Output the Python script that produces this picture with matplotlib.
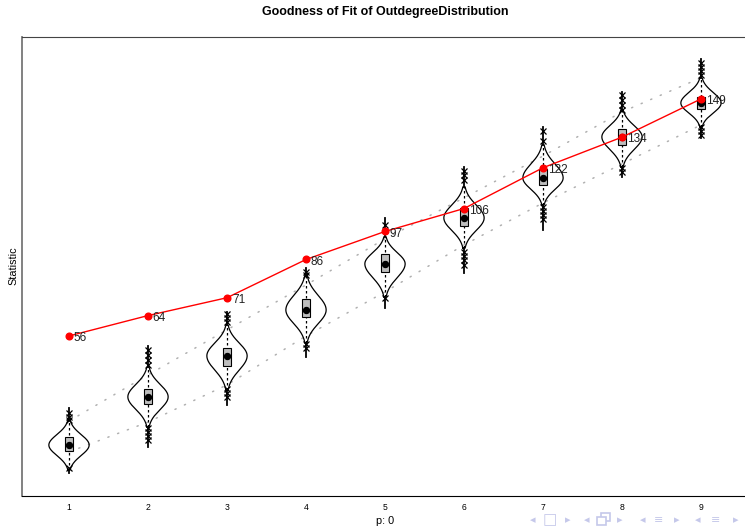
import numpy as np
import matplotlib
matplotlib.use("Agg")
import matplotlib.pyplot as plt
from matplotlib.patches import Rectangle

plt.rcParams['font.family'] = ['Liberation Sans', 'DejaVu Sans']

# ---------------- data ----------------
categories = [1, 2, 3, 4, 5, 6, 7, 8, 9]
observed = [56, 64, 71, 86, 97, 106, 122, 134, 149]

sim_median = [13.2, 32.1, 48.2, 66.2, 84.3, 102.3, 118.0, 134.1, 147.4]
sim_q1 = [10.9, 29.3, 44.2, 63.5, 81.1, 99.2, 115.3, 131.0, 145.1]
sim_q3 = [16.4, 35.2, 51.3, 70.5, 88.2, 106.2, 121.5, 137.2, 149.8]
sim_min = [2.2, 12.4, 28.9, 47.8, 67.0, 80.7, 97.6, 118.4, 133.7]
sim_max = [27.7, 52.1, 65.4, 82.7, 102.3, 122.3, 138.0, 151.8, 164.7]
violin_lo = [3.4, 20.3, 34.8, 53.3, 71.3, 90.5, 107.4, 122.3, 138.0]
violin_hi = [23.0, 43.8, 60.3, 79.9, 94.9, 114.5, 131.0, 144.7, 157.3]
pct05 = [10.5, 22.2, 36.8, 56.0, 73.3, 91.7, 108.2, 123.5, 138.8]
pct95 = [22.6, 40.7, 58.4, 76.0, 94.1, 110.2, 126.6, 143.9, 157.3]
outliers_lo = [[4.2], [19.9, 18.3, 16.8, 15.2], [35.2, 33.6, 32.1],
               [52.9, 51.3], [70.9], [89.0, 87.4, 85.8, 83.9],
               [106.6, 105.1, 103.5, 101.9], [122.0, 120.4],
               [138.0, 136.5, 134.9]]
outliers_hi = [[25.8, 24.2, 23.0], [50.5, 48.5, 46.6, 44.6],
               [64.6, 63.1, 61.5], [81.1, 79.9], [99.6],
               [120.8, 119.2, 117.2], [136.5, 132.5],
               [150.6, 148.6, 146.7, 144.7], [163.1, 161.5, 160.0, 158.4]]

title = "Goodness of Fit of OutdegreeDistribution"
ylabel = "Statistic"
xlabel = "p: 0"

# ---------------- figure ----------------
W, H = 745, 528
fig = plt.figure(figsize=(W / 100, H / 100), dpi=100)
ax_left, ax_right, ax_top, ax_bot = 22, 748, 37, 496
ax = fig.add_axes([ax_left / W, 1 - ax_bot / H,
                   (ax_right - ax_left) / W, (ax_bot - ax_top) / H])
ax.set_xlim(0.405, 9.595)
ax.set_ylim(-6.8, 173.3)

# percentile dotted lines
ax.plot(categories, pct05, color='#b0b0b0', lw=1.1, ls=(0, (0.8, 6)),
        dash_capstyle='round', zorder=1)
ax.plot(categories, pct95, color='#b0b0b0', lw=1.1, ls=(0, (0.8, 6)),
        dash_capstyle='round', zorder=1)

hw = 0.255
for i, x in enumerate(categories):
    med = sim_median[i]
    lo, hi = violin_lo[i], violin_hi[i]
    # violin outline (kernel-shaped template between trimmed ends)
    v = np.linspace(lo, hi, 200)
    sd_lo = (med - lo) / 2.4
    sd_hi = (hi - med) / 2.4
    z = np.where(v < med, (v - med) / sd_lo, (v - med) / sd_hi)
    w = hw * np.exp(-0.5 * z ** 2)
    xs = np.concatenate([x - w, (x + w)[::-1], [x - w[0]]])
    ys = np.concatenate([v, v[::-1], [v[0]]])
    ax.plot(xs, ys, color='black', lw=0.9, zorder=3)
    # tails: solid lines outside violin, dashed inside
    ax.plot([x, x], [sim_min[i], lo], color='black', lw=1.3, zorder=3)
    ax.plot([x, x], [hi, sim_max[i]], color='black', lw=1.3, zorder=3)
    ax.plot([x, x], [lo, hi], color='black', lw=0.9, ls=(0, (2, 2)), zorder=3)
    # outlier crosses
    pts = outliers_lo[i] + outliers_hi[i]
    ax.plot([x] * len(pts), pts, ls='none', marker='x', ms=5, mew=0.9,
            color='black', zorder=4)
    # box
    ax.add_patch(Rectangle((x - 0.05, sim_q1[i]), 0.1, sim_q3[i] - sim_q1[i],
                           facecolor='#bebebe', edgecolor='black', lw=0.8,
                           zorder=5))
ax.plot(categories, sim_median, ls='none', marker='o', ms=4.3,
        color='black', zorder=6)

# observed values
ax.plot(categories, observed, color='#ff0000', lw=1.0, marker='o', ms=4.8,
        zorder=7)
for x, o in zip(categories, observed):
    ax.annotate(str(o), (x, o), xytext=(3.5, -1.5), textcoords='offset points',
                ha='left', va='center', fontsize=8.5, color='#222222',
                zorder=8)

# axes styling
ax.set_xticks(categories)
ax.set_xticklabels([str(c) for c in categories], fontsize=6.2)
ax.tick_params(axis='x', length=0, pad=5)
ax.set_yticks([])
ax.spines['left'].set_color('#777777')
ax.spines['left'].set_linewidth(1.3)
ax.spines['top'].set_color('#444444')
ax.spines['bottom'].set_color('black')
ax.spines['right'].set_visible(False)

cx = ((ax_left + ax_right) / 2) / W
fig.text(cx, 1 - 12 / H, title, ha='center', va='center',
         fontsize=9.0, fontweight='bold')
fig.text(13 / W, 1 - 266 / H, ylabel, ha='center', va='center',
         rotation=90, fontsize=7.8)
fig.text(385 / W, 1 - 521 / H, xlabel, ha='center', va='center', fontsize=7.8)

# beamer navigation symbols
nav_col = '#c5c8ea'
nav = [(533, '\u25c2'), (550, '\u25a1'), (568, '\u25b8'),
       (587, '\u25c2'), (620, '\u25b8'),
       (643, '\u25c2'), (659, '\u2261'), (677, '\u25b8'),
       (698, '\u25c2'), (716, '\u2261'), (736, '\u25b8')]
for px, s in nav:
    fs = 11 if s == '\u25a1' else 8
    fig.text(px / W, 1 - 520 / H, s, ha='center', va='center', fontsize=fs,
             color=nav_col, family=['DejaVu Sans'])
# overlapping-frames icon (no installed glyph) drawn as two squares
for (x0, y0) in [(601, 513), (597, 517)]:
    fig.add_artist(Rectangle((x0 / W, 1 - (y0 + 8) / H), 9 / W, 8 / H,
                             transform=fig.transFigure, facecolor='white',
                             edgecolor=nav_col, lw=1.2))

fig.savefig('out.png', dpi=100)
